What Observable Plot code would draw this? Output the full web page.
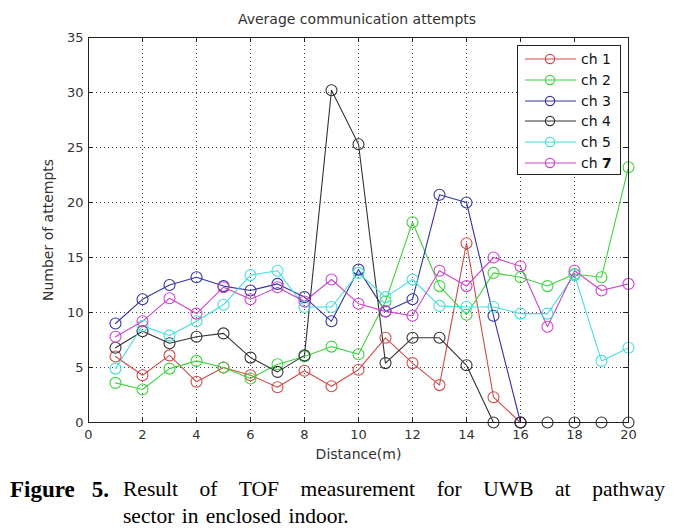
<!DOCTYPE html>
<html>
<head>
<meta charset="utf-8">
<script src="https://cdn.jsdelivr.net/npm/d3@7"></script>
<script src="https://cdn.jsdelivr.net/npm/@observablehq/plot@0.6"></script>
<style>
  html, body { margin: 0; padding: 0; background: white; }
  #wrap { position: relative; width: 684px; height: 531px; overflow: hidden; background: white; }
  #title { position: absolute; left: 0; top: 11px; width: 714px; text-align: center;
           font: 14px "DejaVu Sans", sans-serif; color: #333; line-height: 16px; }
  #legend { position: absolute; left: 517px; top: 45px; width: 104px; height: 130px;
            border: 1px solid #222; background: white; box-sizing: border-box; }
  .lrow { position: absolute; left: 0; height: 20px; width: 104px; }
  .lrow svg { position: absolute; left: 6px; top: 0; }
  .lrow span { position: absolute; left: 63px; top: 2px; font: 14px "DejaVu Sans", sans-serif; color: #111; line-height: 16px; white-space: pre; }
  #cap { position: absolute; left: 0; top: 476px; width: 684px; font-family: "Liberation Serif", "Times New Roman", serif; font-size: 21.5px; line-height: 27px; color: #000; }
  #capLabel { position: absolute; left: 10px; top: 0; width: 99px; font-size: 23px; font-weight: bold; text-align: justify; text-align-last: justify; }
  #capL1 { position: absolute; left: 123px; top: 0; width: 542px; text-align: justify; text-align-last: justify; }
  #capL2 { position: absolute; left: 123px; top: 27px; width: 542px; word-spacing: 2px; }
</style>
</head>
<body>
<div id="wrap">
  <div id="plot"></div>
  <div id="title"></div>
  <div id="legend"></div>
  <div id="cap"><div id="capLabel"></div><div id="capL1"></div><div id="capL2"></div></div>
</div>
<script>
// ---- data ----
const titleText = "Average communication attempts";
const xLabel = "Distance(m)";
const yLabel = "Number of attempts";
const captionLabel = "Figure 5.";
const captionLine1 = "Result of TOF measurement for UWB at pathway";
const captionLine2 = "sector in enclosed indoor.";

const xTicks = [0, 2, 4, 6, 8, 10, 12, 14, 16, 18, 20];
const yTicks = [0, 5, 10, 15, 20, 25, 30, 35];

const distance = [1, 2, 3, 4, 5, 6, 7, 8, 9, 10, 11, 12, 13, 14, 15, 16, 17, 18, 19, 20];

const seriesNames = ["ch 1", "ch 2", "ch 3", "ch 4", "ch 5", "ch 7"];
const seriesColors = ["#d24b4b", "#3fd43f", "#3434a8", "#333333", "#45dede", "#cc44cc"];

const ch1 = [6.0, 4.3, 6.1, 3.7, 5.0, 4.3, 3.2, 4.7, 3.3, 4.8, 7.7, 5.4, 3.4, 16.3, 2.3, 0];
const ch2 = [3.6, 3.0, 4.9, 5.6, 5.0, 4.0, 5.3, 6.0, 6.9, 6.2, 11.0, 18.2, 12.4, 9.8, 13.6, 13.2, 12.4, 13.5, 13.2, 23.2];
const ch3 = [9.0, 11.2, 12.5, 13.2, 12.4, 12.0, 12.6, 11.4, 9.2, 13.9, 10.1, 11.2, 20.7, 20.0, 9.7, 0];
const ch4 = [6.8, 8.3, 7.2, 7.8, 8.1, 5.9, 4.6, 6.1, 30.2, 25.3, 5.4, 7.7, 7.7, 5.2, 0, 0, 0, 0, 0, 0];
const ch5 = [4.9, 8.8, 7.9, 9.2, 10.7, 13.4, 13.8, 10.5, 10.5, 13.6, 11.4, 13.0, 10.6, 10.5, 10.5, 9.9, 9.9, 13.4, 5.6, 6.8];
const ch7 = [7.8, 9.2, 11.3, 9.9, 12.3, 11.2, 12.3, 11.0, 13.0, 10.8, 10.1, 9.7, 13.8, 12.4, 15.0, 14.2, 8.7, 13.8, 12.0, 12.6];

const seriesValues = [ch1, ch2, ch3, ch4, ch5, ch7];

// ---- build table ----
const rows = [];
seriesNames.forEach((name, i) => {
  seriesValues[i].forEach((v, j) => rows.push({series: name, distance: distance[j], value: v}));
});

const W = 684, H = 470, mT = 37, mB = 48, mL = 88, mR = 56;
const plotW = W - mL - mR, plotH = H - mT - mB;
const tickLen = 5;
const axisColor = "#222";
const gridStyle = {stroke: "#333", strokeOpacity: 0.9, strokeDasharray: "1,3", strokeWidth: 1};

const chart = Plot.plot({
  width: W, height: H,
  marginTop: mT, marginBottom: mB, marginLeft: mL, marginRight: mR,
  style: {fontFamily: "DejaVu Sans, sans-serif", fontSize: "13px", color: "#333", background: "white"},
  x: {domain: [xTicks[0], xTicks[xTicks.length - 1]]},
  y: {domain: [yTicks[0], yTicks[yTicks.length - 1]]},
  color: {domain: seriesNames, range: seriesColors},
  marks: [
    Plot.gridX(xTicks, gridStyle),
    Plot.gridY(yTicks, gridStyle),
    Plot.line(rows, {x: "distance", y: "value", z: "series", stroke: "series", strokeWidth: 1.1}),
    Plot.dot(rows, {x: "distance", y: "value", stroke: "series", r: 5.5, strokeWidth: 1.1, fill: "none"}),
    Plot.frame({stroke: axisColor, strokeWidth: 1}),
    // inward ticks on all four sides
    Plot.ruleX(xTicks, {stroke: axisColor, insetTop: plotH - tickLen}),
    Plot.ruleX(xTicks, {stroke: axisColor, insetBottom: plotH - tickLen}),
    Plot.ruleY(yTicks, {stroke: axisColor, insetRight: plotW - tickLen}),
    Plot.ruleY(yTicks, {stroke: axisColor, insetLeft: plotW - tickLen}),
    Plot.axisX(xTicks, {tickSize: 0, tickPadding: 7, fontSize: 13, label: xLabel, labelAnchor: "center", labelArrow: "none", labelOffset: 36, fill: "#333"}),
    Plot.axisY(yTicks, {tickSize: 0, tickPadding: 5, fontSize: 13, label: yLabel, labelAnchor: "center", labelArrow: "none", labelOffset: 45, fill: "#333"})
  ]
});
document.getElementById("plot").appendChild(chart);
chart.querySelectorAll("[aria-label='x-axis label'] text, [aria-label='y-axis label'] text").forEach(t => t.setAttribute("font-size", "14"));

// ---- title ----
document.getElementById("title").textContent = titleText;

// ---- legend ----
const legend = document.getElementById("legend");
const rowTops = 3;
seriesNames.forEach((name, i) => {
  const row = document.createElement("div");
  row.className = "lrow";
  row.style.top = (rowTops + i * 20.8) + "px";
  const c = seriesColors[i];
  row.innerHTML = `<svg width="54" height="20"><line x1="1" y1="10" x2="52" y2="10" stroke="${c}" stroke-width="1.2"/><circle cx="26" cy="10" r="4.6" fill="none" stroke="${c}" stroke-width="1.2"/></svg>`;
  const span = document.createElement("span");
  const parts = name.split(" ");
  if (name === "ch 7") {
    span.textContent = parts[0] + " ";
    const b = document.createElement("b");
    b.textContent = parts[1];
    span.appendChild(b);
  } else {
    span.textContent = name;
  }
  row.appendChild(span);
  legend.appendChild(row);
});

// ---- caption ----
document.getElementById("capLabel").textContent = captionLabel;
document.getElementById("capL1").textContent = captionLine1;
document.getElementById("capL2").textContent = captionLine2;
</script>
</body>
</html>
